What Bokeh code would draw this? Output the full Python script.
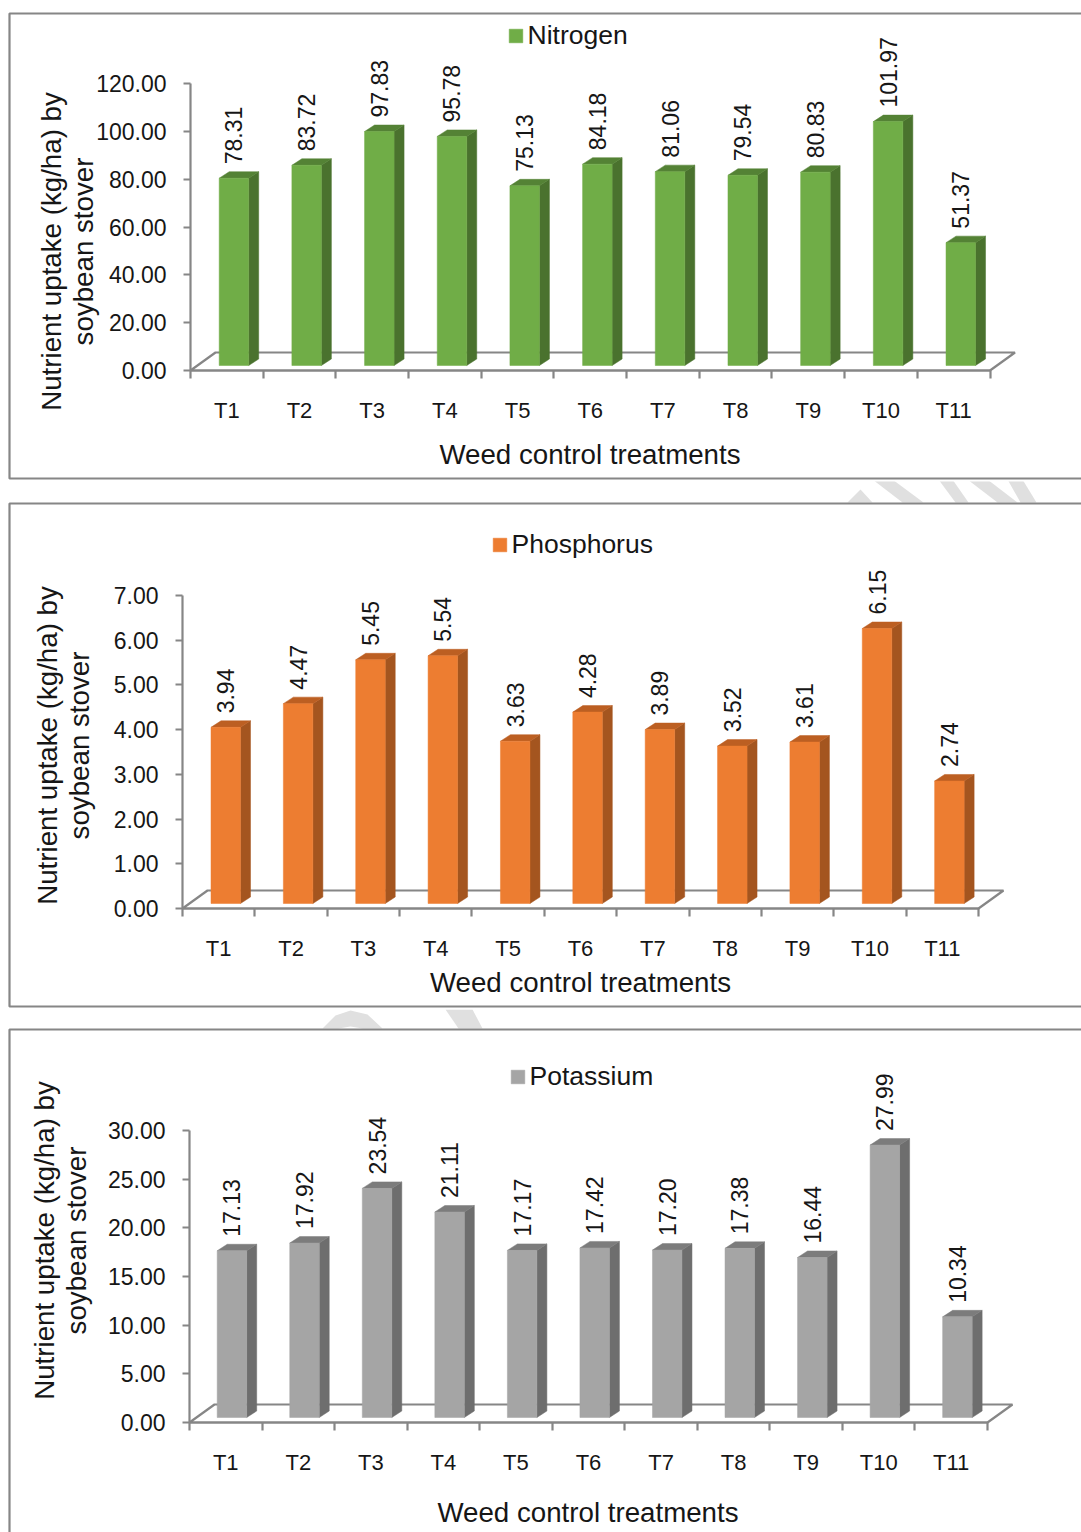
from bokeh.embed import file_html
from bokeh.resources import INLINE
from bokeh.plotting import figure
from bokeh.layouts import column
from bokeh.models import (ColumnDataSource, FixedTicker, NumeralTickFormatter, Label, Legend,
                          BoxAnnotation, PolyAnnotation, Range1d)
from bokeh.core.properties import value
import math

categories = ["T1", "T2", "T3", "T4", "T5", "T6", "T7", "T8", "T9", "T10", "T11"]
nitrogen = [78.31, 83.72, 97.83, 95.78, 75.13, 84.18, 81.06, 79.54, 80.83, 101.97, 51.37]
phosphorus = [3.94, 4.47, 5.45, 5.54, 3.63, 4.28, 3.89, 3.52, 3.61, 6.15, 2.74]
potassium = [17.13, 17.92, 23.54, 21.11, 17.17, 17.42, 17.20, 17.38, 16.44, 27.99, 10.34]
nitrogen_ticks = [0, 20, 40, 60, 80, 100, 120]
phosphorus_ticks = [0, 1, 2, 3, 4, 5, 6, 7]
potassium_ticks = [0, 5, 10, 15, 20, 25, 30]
y_title = "Nutrient uptake (kg/ha) by\nsoybean stover"
x_title = "Weed control treatments"

FONT = "Liberation Sans"
INK = "#161616"
GREY = "#868686"
PAGE_W = 1081

panels = [
    dict(name="Nitrogen", vals=nitrogen, ticks=nitrogen_ticks, front="#70AD47", side="#4A722E", top="#548235",
         page_top=0, page_bot=481, ax=190, ax_end=989.5, y0=370, ymax_py=83, bar_ox=28.7,
         box=(9, 13, 478), ytitle=(67, 251), xtitle=(589.5, 454), leg=(508, 36)),
    dict(name="Phosphorus", vals=phosphorus, ticks=phosphorus_ticks, front="#ED7D31", side="#A4551F", top="#BC5F22",
         page_top=481, page_bot=1009, ax=182, ax_end=978, y0=908, ymax_py=595, bar_ox=28.5,
         box=(9, 503, 1006), ytitle=(63, 745), xtitle=(580, 982), leg=(492, 545)),
    dict(name="Potassium", vals=potassium, ticks=potassium_ticks, front="#A5A5A5", side="#6E6E6E", top="#7C7C7C",
         page_top=1009, page_bot=1532, ax=189, ax_end=987, y0=1422, ymax_py=1130, bar_ox=27.7,
         box=(9, 1029, 1560), ytitle=(60, 1240), xtitle=(587.5, 1512), leg=(510, 1077)),
]

watermarks = [
    [[(847, 502), (860, 489), (872, 502)],
     [(872, 479), (892, 479), (923, 502), (902, 502)],
     [(938, 479), (952, 479), (968, 502), (955, 502)],
     [(967, 479), (987, 479), (1017, 502), (997, 502)],
     [(1007, 479), (1022, 479), (1036, 502), (1020, 502)]],
    [[(322, 1028), (335, 1015), (350, 1010), (367, 1014), (382, 1028), (362, 1028), (350, 1026), (338, 1028)],
     [(445, 1009), (472, 1009), (482, 1028), (458, 1028)]],
]


def build(cfg, marks):
    ax, y0 = cfg["ax"], cfg["y0"]
    n = len(categories)
    slot = (cfg["ax_end"] - ax) / n
    tmax = cfg["ticks"][-1]
    scale = (y0 - cfg["ymax_py"]) / tmax

    def X(px):
        return (px - ax) / slot

    def Y(py):
        return (y0 - py) / scale

    p = figure(width=PAGE_W, height=cfg["page_bot"] - cfg["page_top"], output_backend="svg", toolbar_location=None,
               x_range=Range1d(X(0), X(PAGE_W)), y_range=Range1d(Y(cfg["page_bot"]), Y(cfg["page_top"])),
               min_border_left=0, min_border_right=0, min_border_top=0, min_border_bottom=0,
               background_fill_color="white", border_fill_color="white", outline_line_color=None)
    p.grid.visible = False

    for poly in marks:
        p.add_layout(PolyAnnotation(xs=[X(a) for a, _ in poly], ys=[Y(b) for _, b in poly],
                                    fill_color="#E0E0E0", fill_alpha=1, line_color=None, level="underlay"))
    left, top, bot = cfg["box"]
    p.add_layout(BoxAnnotation(left=X(left), right=X(PAGE_W + 20), top=Y(top), bottom=Y(bot),
                               fill_alpha=0, line_color=GREY, line_width=2.2, line_alpha=1, level="underlay"))

    # floor, depth in pixels converted through the scales
    fdx, fdy = 25 / slot, 18 / scale
    p.patch([0, n, n + fdx, fdx], [0, 0, fdy, fdy], fill_color="white", line_color=GREY, line_width=2.2)

    # bars
    ox, w = cfg["bar_ox"] / slot, 29.5 / slot
    base = 5 / scale
    dx, dy = 10 / slot, 6.5 / scale
    lefts = [i + ox for i in range(n)]
    rights = [l + w for l in lefts]
    tops = [v + base for v in cfg["vals"]]
    src = ColumnDataSource(dict(x=[l + w / 2 for l in lefts], top=tops, bottom=[base] * n))
    side_x = [[r, r + dx, r + dx, r] for r in rights]
    side_y = [[base, base + dy, t + dy, t] for t in tops]
    top_x = [[l, l + dx, r + dx, r] for l, r in zip(lefts, rights)]
    top_y = [[t, t + dy, t + dy, t] for t in tops]
    p.patches(side_x, side_y, fill_color=cfg["side"], line_color=cfg["side"], line_width=0.5)
    p.patches(top_x, top_y, fill_color=cfg["top"], line_color=cfg["top"], line_width=0.5)
    bars = p.vbar(x="x", top="top", bottom="bottom", width=w, source=src, fill_color=cfg["front"],
                  line_color=cfg["front"], line_width=0.5)

    # value labels
    lab = ColumnDataSource(dict(x=[l + w / 2 for l in lefts],
                                y=[t + dy + 7.5 / scale for t in tops],
                                t=["%.2f" % v for v in cfg["vals"]]))
    p.text(x="x", y="y", text="t", source=lab, angle=math.pi / 2, text_align="left", text_baseline="middle",
           text_font=value(FONT), text_font_size="23px", text_color=INK)

    # axes
    ya = p.yaxis[0]
    ya.fixed_location = 0
    ya.ticker = FixedTicker(ticks=cfg["ticks"])
    ya.formatter = NumeralTickFormatter(format="0.00")
    ya.bounds = (0, tmax)
    ya.major_tick_in, ya.major_tick_out = 0, 7
    ya.minor_tick_in, ya.minor_tick_out = 0, 0
    ya.major_label_standoff = 17
    xa = p.xaxis[0]
    xa.fixed_location = 0
    xa.ticker = FixedTicker(ticks=[i + 0.5 for i in range(n)], minor_ticks=list(range(n + 1)))
    xa.major_label_overrides = {i + 0.5: c for i, c in enumerate(categories)}
    xa.bounds = (0, n)
    xa.major_tick_in, xa.major_tick_out = 0, 0
    xa.minor_tick_in, xa.minor_tick_out = 0, 8
    xa.major_label_standoff = 19
    xa.major_label_orientation = "horizontal"
    for a in (xa, ya):
        a.axis_line_color = GREY
        a.axis_line_width = 2.2
        a.major_tick_line_color = GREY
        a.major_tick_line_width = 2.2
        a.minor_tick_line_color = GREY
        a.minor_tick_line_width = 2.2
        a.major_label_text_font = FONT
        a.major_label_text_color = INK
    ya.major_label_text_font_size = "23px"
    xa.major_label_text_font_size = "22px"

    # titles
    tx, ty = cfg["ytitle"]
    p.add_layout(Label(x=X(tx), y=Y(ty), text=y_title, angle=math.pi / 2, text_align="center",
                       text_baseline="middle", text_font=FONT, text_font_size="27.7px", text_color=INK,
                       text_line_height=1.02))
    qx, qy = cfg["xtitle"]
    p.add_layout(Label(x=X(qx), y=Y(qy), text=x_title, text_align="center", text_baseline="middle",
                       text_font=FONT, text_font_size="27.7px", text_color=INK))

    # legend
    lx, ly = cfg["leg"]
    leg = Legend(items=[(cfg["name"], [bars])], location=(lx - 1.5, cfg["page_bot"] - ly - 15),
                 orientation="horizontal", padding=0, margin=0, glyph_width=17, glyph_height=17,
                 label_standoff=4, spacing=0, background_fill_alpha=0, border_line_color=None,
                 label_text_font=FONT, label_text_font_size="26.5px", label_text_color=INK)
    p.add_layout(leg, "center")
    return p


plots = [build(panels[0], []), build(panels[1], watermarks[0]), build(panels[2], watermarks[1])]
page = column(*plots, spacing=0)
open("out.html", "w").write(file_html(page, INLINE))
